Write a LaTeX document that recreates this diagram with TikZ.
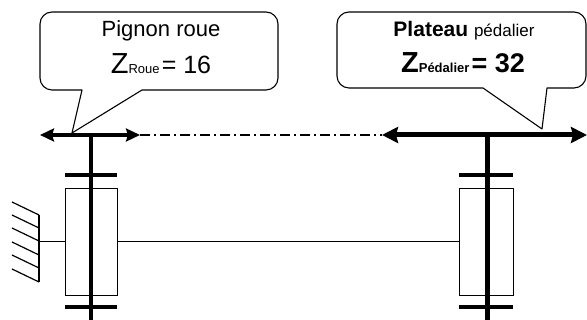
\documentclass[tikz,border=0pt]{standalone}
\usepackage{fontspec}
\setmainfont{Liberation Sans}
\usetikzlibrary{arrows.meta}

\begin{document}
\begin{tikzpicture}[
        x=1pt, y=1pt,
        bulle/.style={draw, line width=1.1pt, line join=round},
        arbre/.style={line width=4pt},
        dent/.style={line width=4pt},
        palier/.style={draw, line width=0.9pt},
        axe/.style={line width=0.9pt},
        fleche/.style={line width=3.5pt, {Stealth[length=14pt,width=13pt,inset=2pt]}-{Stealth[length=14pt,width=13pt,inset=2pt]}},
        grosfleche/.style={line width=5pt, {Stealth[length=16pt,width=16pt,inset=2pt]}-{Stealth[length=16pt,width=16pt,inset=2pt]}}
    ]
        \useasboundingbox (0,0) rectangle (587,320);

        % Points of the two wheels
        \coordinate (roueG) at (40,185);
        \coordinate (roueD) at (140,185);
        \coordinate (platG) at (382,185);
        \coordinate (platD) at (587,185);
        \coordinate (pointeG) at (72,187);
        \coordinate (pointeD) at (542,191);

        % Callouts
        \draw[bulle] (82,230) -- (52,230) arc[start angle=270, end angle=180, radius=12]
            -- (40,296) arc[start angle=180, end angle=90, radius=12]
            -- (266,308) arc[start angle=90, end angle=0, radius=12]
            -- (278,242) arc[start angle=0, end angle=-90, radius=12]
            -- (142,230) -- (pointeG) -- cycle;
        \draw[bulle] (483,232) -- (349,232) arc[start angle=270, end angle=180, radius=12]
            -- (337,296) arc[start angle=180, end angle=90, radius=12]
            -- (574,308) arc[start angle=90, end angle=0, radius=12]
            -- (586,244) arc[start angle=0, end angle=-90, radius=12]
            -- (547,232) -- (pointeD) -- cycle;

        \node[anchor=base, inner sep=0pt] (pignon) at (161,283) {\fontsize{22}{24}\selectfont Pignon roue};
        \node[anchor=base, inner sep=0pt] (zroue) at (161,246)
            {\fontsize{29}{30}\selectfont Z\fontsize{13}{14}\selectfont Roue\,\fontsize{25}{26}\selectfont = 16};
        \node[anchor=base, inner sep=0pt, font=\bfseries] (plateau) at (464,283)
            {\fontsize{21}{24}\selectfont Plateau {\mdseries\fontsize{17}{20}\selectfont pédalier}};
        \node[anchor=base, inner sep=0pt, font=\bfseries] (zpedalier) at (463,247)
            {\fontsize{29}{30}\selectfont Z\fontsize{13}{14}\selectfont Pédalier\,\fontsize{27}{28}\selectfont = 32};

        % Axis between the wheels
        \draw[line width=1.2pt, dash pattern=on 10pt off 4pt on 2pt off 4pt] (roueD) -- (platG);
        \draw[fleche] (roueG) -- (roueD);
        \draw[grosfleche] (platG) -- (platD);

        % Frame and bearings
        \draw[line width=1.4pt] (39,38) -- (39,105);
        \foreach \y in {38,52,65,79,92,105}
            \draw[line width=1.2pt] (39,\y) -- (12,\y+13);
        \node[palier, minimum width=52pt, minimum height=107pt, inner sep=0pt] (palierG) at (91,78.5) {};
        \node[palier, minimum width=54pt, minimum height=107pt, inner sep=0pt] (palierD) at (486,78.5) {};
        \draw[axe] (39,79) -- (palierG.west |- 0,79);
        \draw[axe] (palierG.east |- 0,79) -- (palierD.west |- 0,79);

        % Shafts and gears
        \draw[arbre] (91,185) -- (91,0);
        \draw[arbre, line width=5pt] (487,185) -- (487,0);
        \foreach \y in {13,145} {
            \draw[dent] (65,\y) -- (117,\y);
            \draw[dent] (459,\y) -- (513,\y);
        }
    \end{tikzpicture}
\end{document}
